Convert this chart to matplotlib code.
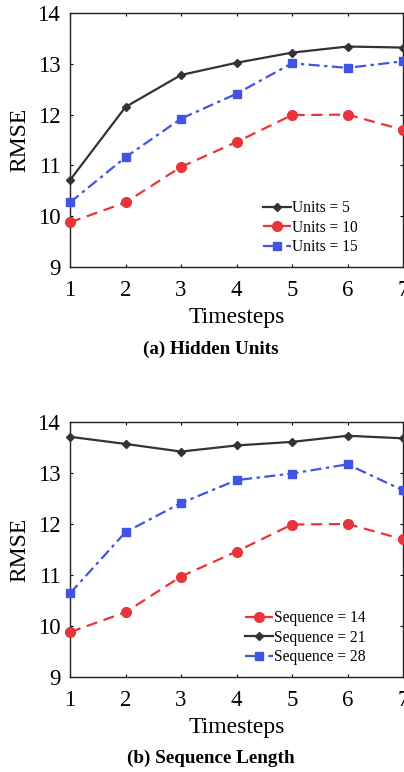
import matplotlib
matplotlib.use("Agg")
import matplotlib.pyplot as plt

timesteps = [1, 2, 3, 4, 5, 6, 7]
units5 = [10.71, 12.15, 12.78, 13.02, 13.22, 13.34, 13.32]
units10 = [9.88, 10.27, 10.97, 11.46, 11.99, 12.0, 11.70]
units15 = [10.27, 11.16, 11.92, 12.41, 13.01, 12.92, 13.05]

seq14 = [9.88, 10.27, 10.97, 11.46, 11.99, 12.0, 11.70]
seq21 = [13.71, 13.57, 13.42, 13.54, 13.61, 13.73, 13.68]
seq28 = [10.64, 11.84, 12.41, 12.86, 12.99, 13.17, 12.66]

yticks = [9, 10, 11, 12, 13, 14]

plt.rcParams['font.family'] = ['Liberation Serif', 'DejaVu Serif']
BLACK = '#333333'
RED = '#e8343a'
BLUE = '#4254e3'

fig = plt.figure(figsize=(4.04, 7.72), dpi=100)
ax1 = fig.add_axes([70/404, 1-267/772, 333/404, 254/772])
ax2 = fig.add_axes([70/404, 1-677/772, 333/404, 255/772])

def style(ax):
    ax.set_xlim(1, 7)
    ax.set_ylim(9, 14)
    ax.set_xticks(timesteps)
    ax.set_yticks(yticks)
    ax.tick_params(direction='in', top=True, right=True, labelsize=16.5, length=2.5, width=0.8)
    ax.tick_params(axis='x', pad=9)
    ax.tick_params(axis='y', pad=7)
    for s in ax.spines.values():
        s.set_color('#222222')
        s.set_linewidth(1.0)
    ax.set_xlabel('Timesteps', fontsize=17, labelpad=5)
    ax.set_ylabel('RMSE', fontsize=17, labelpad=5)

def s_black(ax, y, label):
    ax.plot(timesteps, y, '-', color=BLACK, lw=1.6, marker='D', ms=4.5, label=label, clip_on=False, zorder=3)

def s_red(ax, y, label):
    ax.plot(timesteps, y, '--', color=RED, lw=1.6, dashes=(5, 3), marker='o', ms=7, label=label, clip_on=False, zorder=3)

def s_blue(ax, y, label):
    ax.plot(timesteps, y, '-.', color=BLUE, lw=1.6, dashes=(5, 2, 1.5, 2), marker='s', ms=5.5, label=label, clip_on=False, zorder=3)

s_black(ax1, units5, 'Units = 5')
s_red(ax1, units10, 'Units = 10')
s_blue(ax1, units15, 'Units = 15')
style(ax1)
ax1.legend(loc='lower right', bbox_to_anchor=(0.883, 0.022), frameon=False, fontsize=11.2,
           handlelength=1.8, handletextpad=0.05, labelspacing=0.22, borderaxespad=0)

s_red(ax2, seq14, 'Sequence = 14')
s_black(ax2, seq21, 'Sequence = 21')
s_blue(ax2, seq28, 'Sequence = 28')
style(ax2)
ax2.legend(loc='lower right', bbox_to_anchor=(0.906, 0.022), frameon=False, fontsize=11.2,
           handlelength=1.8, handletextpad=0.05, labelspacing=0.22, borderaxespad=0)

fig.text(211/404, 1-349/772, '(a) Hidden Units', ha='center', va='center', fontsize=13.8, fontweight='bold')
fig.text(211/404, 1-758/772, '(b) Sequence Length', ha='center', va='center', fontsize=13.8, fontweight='bold')

fig.savefig('out.png', dpi=100)
